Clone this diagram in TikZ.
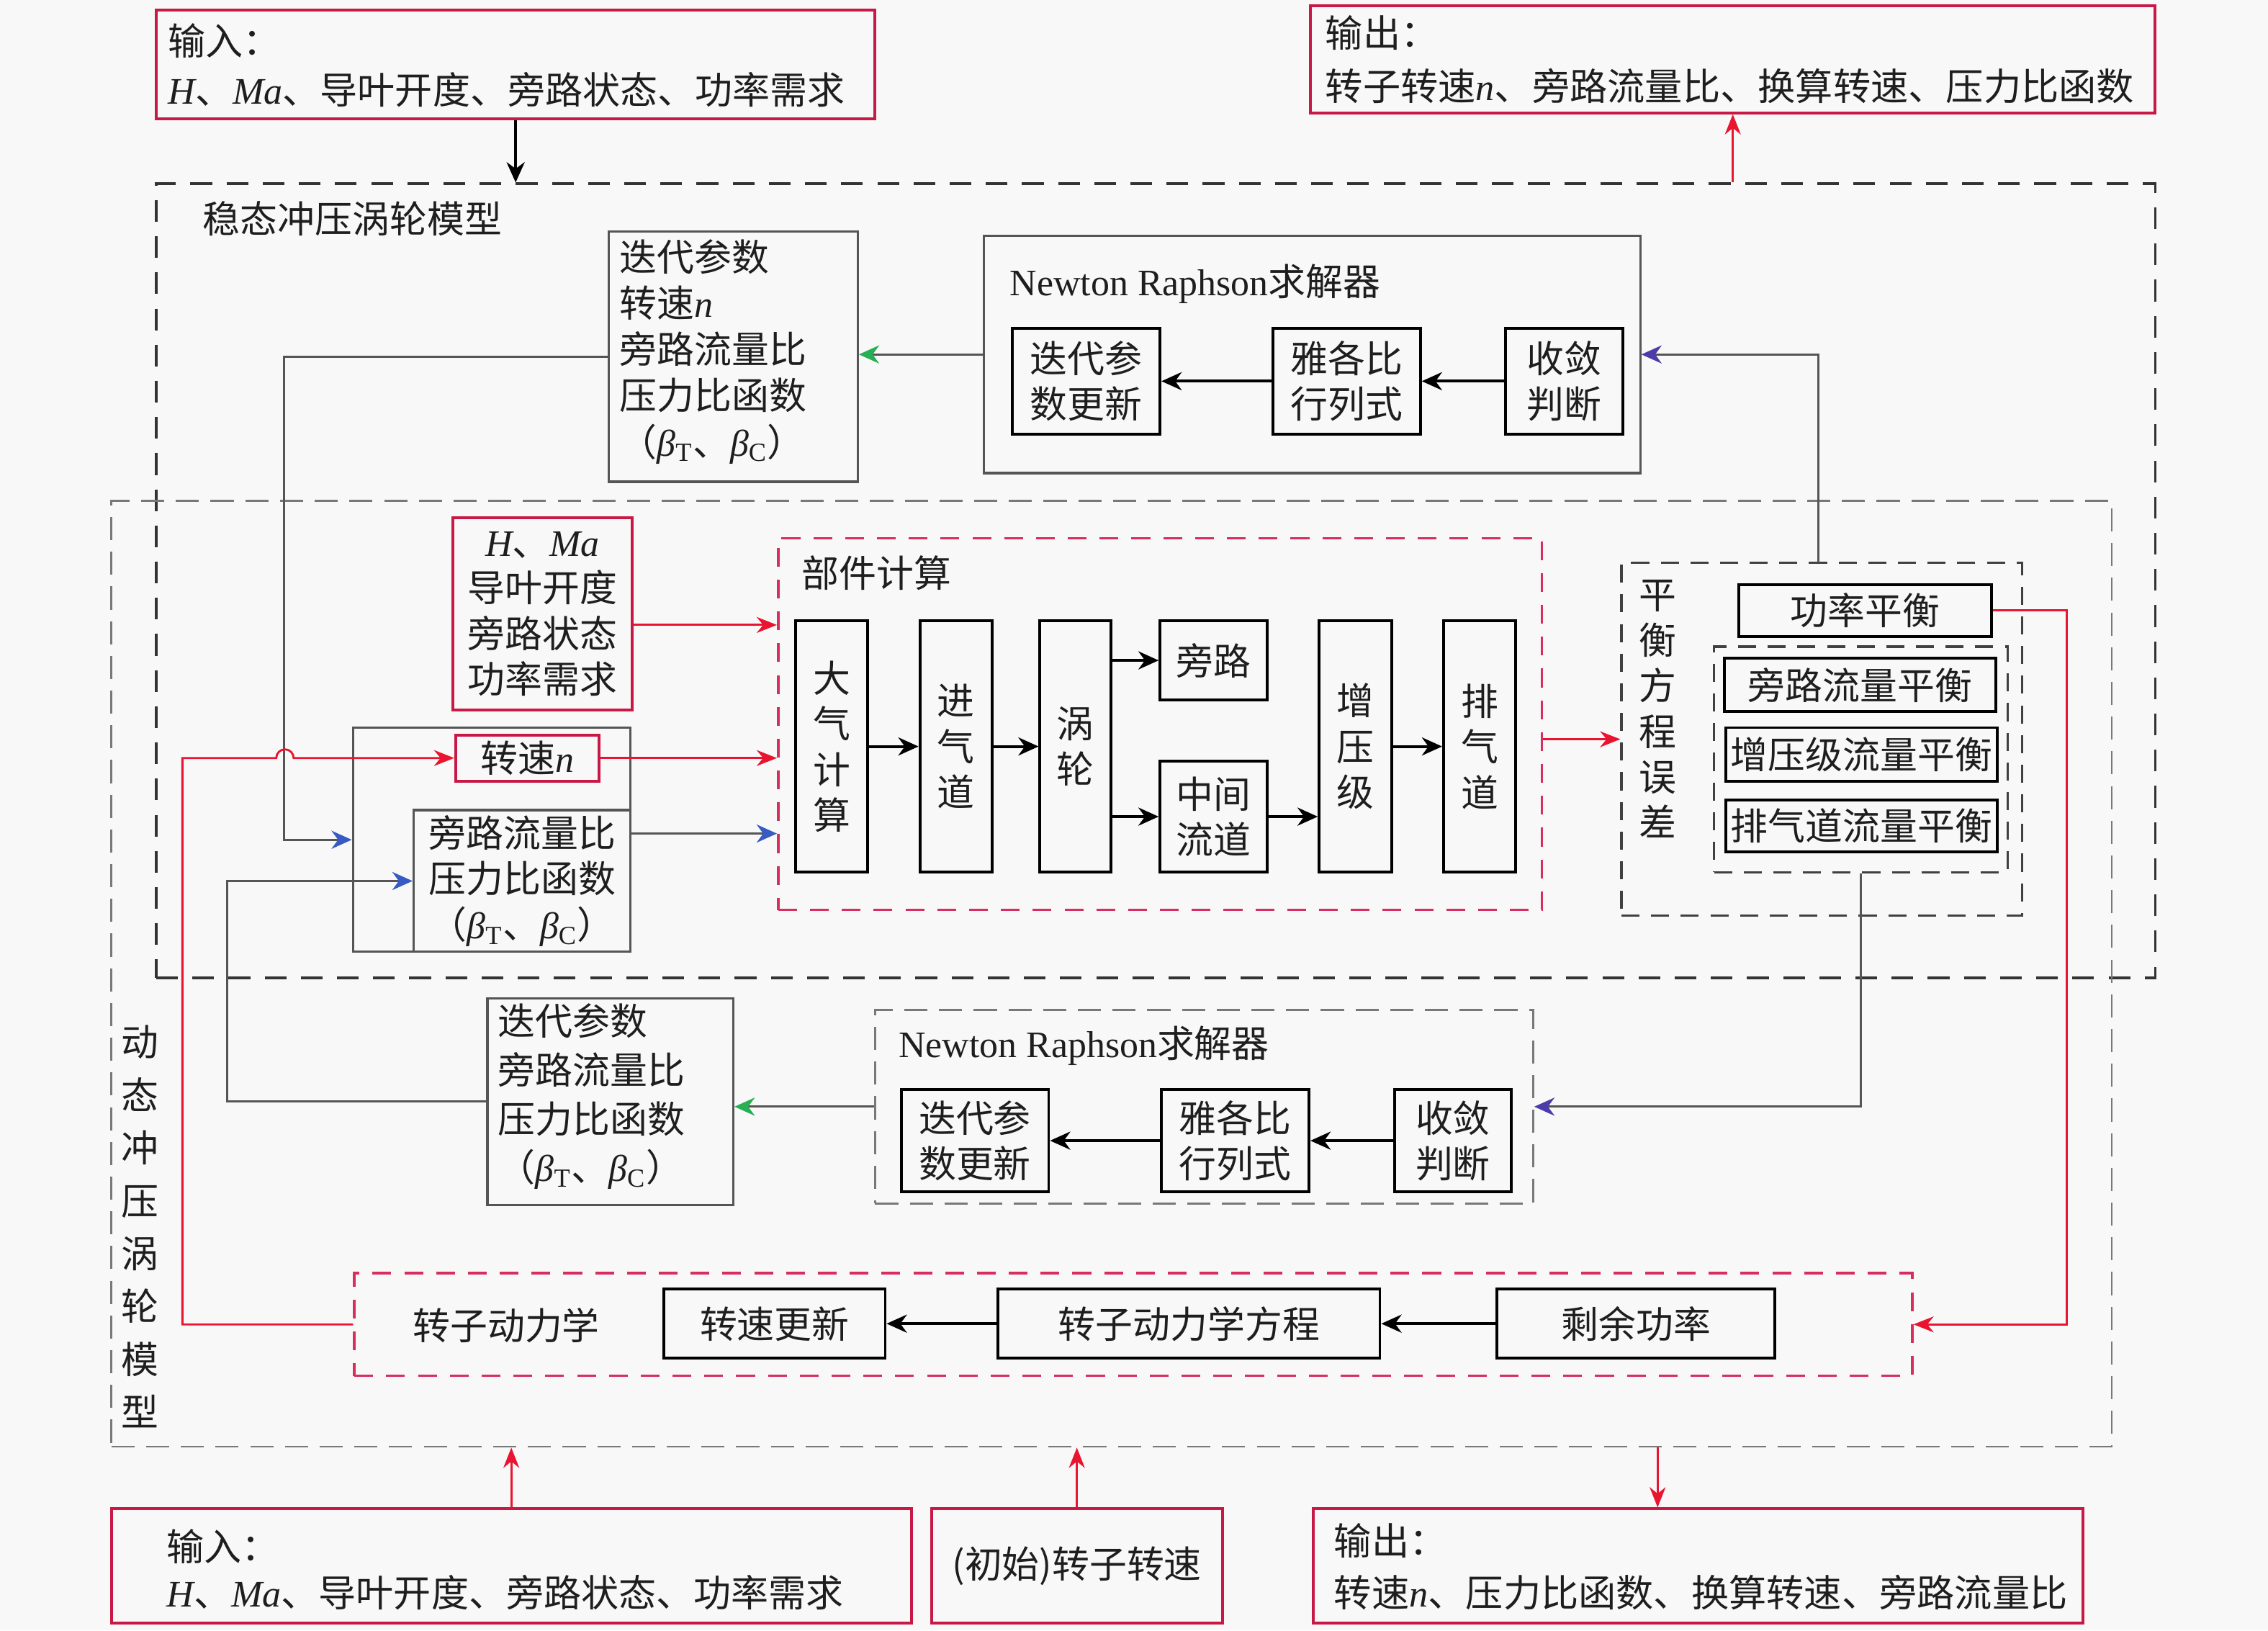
\documentclass[tikz,border=0pt]{standalone}
\usepackage{fontspec}
\setmainfont{Noto Sans CJK SC}
\newfontfamily\lat{Liberation Serif}
\usetikzlibrary{arrows.meta}
\definecolor{bgc}{RGB}{248,248,248}
\definecolor{bred}{RGB}{200,25,70}
\definecolor{ared}{RGB}{232,20,48}
\definecolor{pinkd}{RGB}{215,45,95}
\definecolor{gline}{RGB}{85,85,85}
\definecolor{dgray}{RGB}{120,120,120}
\definecolor{ablue}{RGB}{55,90,195}
\definecolor{agreen}{RGB}{40,175,85}
\definecolor{apurple}{RGB}{75,60,170}
\definecolor{txt}{RGB}{30,30,30}
\newcommand\vi[1]{{\lat\itshape #1}}
\newcommand\bT{\vi{β}\textsubscript{\lat T}}
\newcommand\bC{\vi{β}\textsubscript{\lat C}}
\newcommand\fz[2]{\fontsize{#1}{#2}\selectfont}
\newcommand\bx[7][]{\node[#1,minimum width={(#5-#3)*0.02cm},minimum height={(#6-#4)*0.02cm}] (#2) at ({(#3+#5)/2},{(#4+#6)/2}) {#7};}
\begin{document}
\begin{tikzpicture}[x=0.02cm,y=-0.02cm,
  every node/.style={text=txt,inner sep=0pt,font=\fz{14.7pt}{18pt}},
  kbox/.style={draw=black,line width=1.1pt,align=center},
  gbox/.style={draw=gline,line width=0.9pt,align=center},
  rbox/.style={draw=bred,line width=1.1pt,align=center},
  sdash/.style={draw=black!80,line width=1pt,dash pattern=on 0.3cm off 0.2cm},
  ddash/.style={draw=dgray,line width=0.8pt,dash pattern=on 0.32cm off 0.16cm},
  kdash/.style={draw=black!75,line width=0.9pt,dash pattern=on 0.25cm off 0.16cm},
  pdash/.style={draw=pinkd,line width=1pt,dash pattern=on 0.26cm off 0.18cm},
  karr/.style={draw=black,line width=1.1pt,-{Stealth[length=0.28cm,width=0.25cm,inset=0.09cm]}},
  rarr/.style={draw=ared,line width=0.8pt,-{Stealth[length=0.28cm,width=0.22cm,inset=0.09cm,color=ared]}},
  barr/.style={draw=gline,line width=0.9pt,-{Stealth[length=0.28cm,width=0.25cm,inset=0.09cm,color=ablue]}},
  garr/.style={draw=gline,line width=0.9pt,-{Stealth[length=0.28cm,width=0.25cm,inset=0.09cm,color=agreen]}},
  parr/.style={draw=gline,line width=0.9pt,-{Stealth[length=0.28cm,width=0.25cm,inset=0.09cm,color=apurple]}}]
\path[use as bounding box,fill=bgc] (0,0) rectangle (1568,1127);
% big dashed regions
\bx[sdash]{steady}{108}{127}{1490}{676}{}
\bx[ddash]{dyn}{77}{346}{1460}{1000}{}
\node[anchor=west] (steadyL) at (140,151) {稳态冲压涡轮模型};
\node[align=center,font=\fz{14.7pt}{20.8pt}] (dynL) at (97,848) {动\\态\\冲\\压\\涡\\轮\\模\\型};
% top inputs / outputs
\bx[rbox]{in1}{108}{7}{605}{82}{}
\node[anchor=west,align=left,font=\fz{14.75pt}{19.35pt}] (in1T) at (116,45) {输入：\\\vi{H}、\vi{Ma}、导叶开度、旁路状态、功率需求};
\bx[rbox]{out1}{906}{4}{1490}{78}{}
\node[anchor=west,align=left,font=\fz{14.8pt}{21pt}] (out1T) at (916,41) {输出：\\转子转速\vi{n}、旁路流量比、换算转速、压力比函数};
% upper iteration parameters
\bx[gbox]{iter1}{421}{160}{593}{333}{}
\node[anchor=west,align=left,font=\fz{14.7pt}{18.2pt}] (iter1T) at (428,243) {迭代参数\\转速\vi{n}\\旁路流量比\\压力比函数\\（\bT、\bC）};
% upper Newton solver
\bx[gbox]{nr1}{680}{163}{1134}{327}{}
\node[anchor=west] (nr1L) at (698,196) {{\lat Newton Raphson}求解器};
\bx[kbox]{nr1a}{700}{227}{802}{300}{迭代参\\数更新}
\bx[kbox]{nr1b}{880}{227}{982}{300}{雅各比\\行列式}
\bx[kbox]{nr1c}{1041}{227}{1122}{300}{收敛\\判断}
% inputs of component calc
\bx[rbox]{hma}{313}{358}{437}{491}{\vi{H}、\vi{Ma}\\导叶开度\\旁路状态\\功率需求}
\bx[gbox]{grp}{244}{503}{436}{658}{}
\bx[rbox]{spd}{315}{508}{414}{540}{转速\vi{n}}
\bx[gbox]{byp}{286}{560}{436}{658}{旁路流量比\\压力比函数\\（\bT、\bC）}
% component calculation
\bx[pdash]{comp}{538}{372}{1066}{629}{}
\node[anchor=west] (compL) at (554,396) {部件计算};
\bx[kbox]{c1}{550}{429}{600}{603}{大\\气\\计\\算}
\bx[kbox]{c2}{636}{429}{686}{603}{进\\气\\道}
\bx[kbox]{c3}{719}{429}{768}{603}{涡\\轮}
\bx[kbox]{c4}{802}{429}{876}{484}{旁路}
\bx[kbox]{c5}{802}{526}{876}{603}{中间\\流道}
\bx[kbox]{c6}{912}{429}{962}{603}{增\\压\\级}
\bx[kbox]{c7}{998}{429}{1048}{603}{排\\气\\道}
% balance equations
\bx[kdash]{bal}{1121}{389}{1398}{633}{}
\node[align=center,font=\fz{14.7pt}{17.9pt}] (balL) at (1146,490) {平\\衡\\方\\程\\误\\差};
\bx[kbox]{pb}{1202}{404}{1377}{440}{功率平衡}
\bx[kdash]{ib}{1185}{447}{1388}{603}{}
\bx[kbox]{fb1}{1192}{455}{1380}{492}{旁路流量平衡}
\bx[kbox]{fb2}{1193}{503}{1381}{540}{增压级流量平衡}
\bx[kbox]{fb3}{1193}{553}{1381}{589}{排气道流量平衡}
% lower iteration parameters
\bx[gbox]{iter2}{337}{690}{507}{833}{}
\node[anchor=west,align=left,font=\fz{14.7pt}{19.2pt}] (iter2T) at (344,758) {迭代参数\\旁路流量比\\压力比函数\\（\bT、\bC）};
% lower Newton solver
\bx[ddash]{nr2}{605}{698}{1060}{832}{}
\node[anchor=west] (nr2L) at (621,723) {{\lat Newton Raphson}求解器};
\bx[kbox]{nr2a}{623}{753}{725}{824}{迭代参\\数更新}
\bx[kbox]{nr2b}{803}{753}{905}{824}{雅各比\\行列式}
\bx[kbox]{nr2c}{964}{753}{1045}{824}{收敛\\判断}
% rotor dynamics
\bx[pdash]{rd}{245}{880}{1322}{951}{}
\node (rdL) at (350,916) {转子动力学};
\bx[kbox]{rd1}{459}{891}{612}{939}{转速更新}
\bx[kbox]{rd2}{690}{891}{954}{939}{转子动力学方程}
\bx[kbox]{rd3}{1035}{891}{1227}{939}{剩余功率}
% bottom inputs / outputs
\bx[rbox]{in2}{77}{1043}{630}{1122}{}
\node[anchor=west,align=left,font=\fz{14.75pt}{18.2pt}] (in2T) at (115,1085) {输入：\\\vi{H}、\vi{Ma}、导叶开度、旁路状态、功率需求};
\bx[rbox]{ini}{644}{1043}{845}{1122}{(初始)转子转速}
\bx[rbox]{out2}{908}{1043}{1440}{1122}{}
\node[anchor=west,align=left,font=\fz{14.8pt}{20.5pt}] (out2T) at (922,1083) {输出：\\转速\vi{n}、压力比函数、换算转速、旁路流量比};
% helper coordinates
\coordinate (balTop) at (1257,389);
\coordinate (hop) at (197,524);
% connectors
\draw[karr] (in1.south) -- (in1.south |- steady.north);
\draw[rarr] (out1.south |- steady.north) -- (out1.south);
\draw[garr] (nr1.west) -- (nr1.west -| iter1.east);
\draw[karr] (nr1c.west) -- (nr1b.east);
\draw[karr] (nr1b.west) -- (nr1a.east);
\draw[parr] (balTop) |- (nr1.east);
\draw[barr] (iter1.west) -- ++(-224,0) |- (grp.west);
\draw[rarr] (rd.west) -- ++(-118,0) |- ([xshift=-0.12cm]hop) arc[start angle=180,end angle=0,radius=0.12cm] -- (spd.west);
\draw[barr] (iter2.west) -- ++(-179,0) |- (byp.west);
\draw[rarr] ([yshift=-0.15cm]hma.east) -- ([yshift=-0.15cm]hma.east -| comp.west);
\draw[rarr] (spd.east) -- (spd.east -| comp.west);
\draw[barr] ([yshift=-0.34cm]byp.north east) -- ([yshift=-0.34cm]byp.north east -| comp.west);
\draw[karr] (c1.east) -- (c2.west);
\draw[karr] (c2.east) -- (c3.west);
\draw[karr] (c3.east |- c4.west) -- (c4.west);
\draw[karr] (c3.east |- c5.west) -- (c5.west);
\draw[karr] (c5.east) -- (c5.east -| c6.west);
\draw[karr] (c6.east) -- (c7.west);
\draw[rarr] (comp.east |- bal.west) -- (bal.west);
\draw[parr] (ib.south) |- (nr2.east);
\draw[rarr] (pb.east) -- ++(51,0) |- (rd.east);
\draw[garr] (nr2.west) -- (nr2.west -| iter2.east);
\draw[karr] (nr2c.west) -- (nr2b.east);
\draw[karr] (nr2b.west) -- (nr2a.east);
\draw[karr] (rd3.west) -- (rd2.east);
\draw[karr] (rd2.west) -- (rd1.east);
\draw[rarr] (in2.north) -- (in2.north |- dyn.south);
\draw[rarr] (ini.north) -- (ini.north |- dyn.south);
\draw[rarr] ([xshift=-0.56cm]out2.north |- dyn.south) -- ([xshift=-0.56cm]out2.north);
\end{tikzpicture}
\end{document}
